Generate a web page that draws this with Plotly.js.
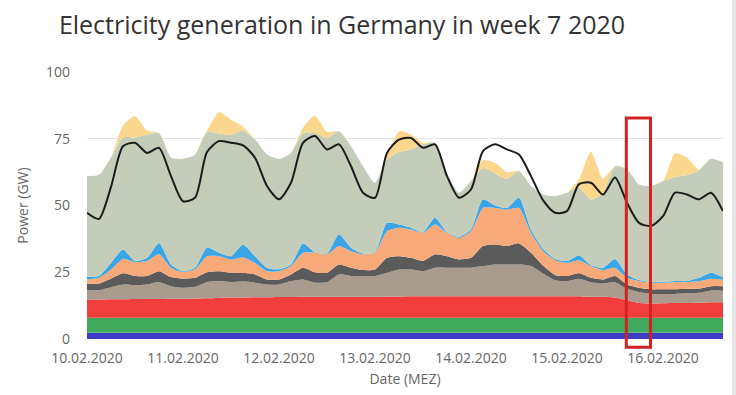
<!DOCTYPE html>
<html>
<head>
<meta charset="utf-8">
<script src="https://cdn.plot.ly/plotly-3.0.1.min.js"></script>
<style>html,body{margin:0;padding:0;background:#fff;}#chart{width:736px;height:395px;}</style>
</head>
<body>
<div id="chart"></div>
<script>
// time grid: every 3 hours from 10.02.2020 00:00
const startDay = 10, stepHours = 3, nPoints = 54;
const pad = n => (n < 10 ? '0' : '') + n;
const times = [];
for (let k = 0; k < nPoints; k++) {
  const h = k * stepHours;
  times.push('2020-02-' + pad(startDay + Math.floor(h / 24)) + ' ' + pad(h % 24) + ':00');
}

// series values in GW
const hydro = [2.3,2.3,2.3,2.3,2.3,2.3,2.3,2.3,2.3,2.3,2.3,2.3,2.3,2.3,2.3,2.3,2.3,2.3,2.3,2.3,2.3,2.3,2.3,2.3,2.3,2.3,2.3,2.3,2.3,2.3,2.3,2.3,2.3,2.3,2.3,2.3,2.3,2.3,2.3,2.3,2.3,2.3,2.3,2.3,2.3,2.3,2.3,2.3,2.3,2.3,2.3,2.3,2.3,2.3];
const biomass = [5.7,5.7,5.7,5.7,5.7,5.7,5.7,5.7,5.7,5.7,5.7,5.7,5.7,5.7,5.7,5.7,5.7,5.7,5.7,5.7,5.7,5.7,5.7,5.7,5.7,5.7,5.7,5.7,5.7,5.7,5.7,5.7,5.7,5.7,5.7,5.7,5.7,5.7,5.7,5.7,5.7,5.7,5.7,5.7,5.7,5.7,5.7,5.7,5.7,5.7,5.7,5.7,5.7,5.7];
const nuclear = [6.8,6.8,6.9,6.9,7.0,7.0,7.0,7.1,7.1,7.2,7.3,7.4,7.5,7.5,7.6,7.6,7.7,7.7,7.8,7.8,7.8,7.8,7.8,7.8,7.8,7.9,7.9,8.0,8.0,8.0,8.0,8.0,8.0,8.0,8.0,8.0,8.0,8.0,8.0,8.0,8.0,8.0,7.8,7.8,7.5,6.5,5.5,5.3,5.4,5.5,5.5,5.6,5.8,5.8];
const lignite = [3.5,3.5,4.5,5.5,5.2,5.4,6.3,4.7,4.1,4.4,6.0,6.3,5.8,6.0,5.5,4.8,4.7,6.0,6.5,5.3,5.5,8.4,7.8,7.8,7.8,8.9,10.1,10.0,9.4,10.7,10.7,10.7,10.7,11.3,11.9,11.9,11.9,11.3,8.5,6.0,5.7,6.6,5.5,5.0,5.8,4.3,4.1,3.6,3.5,3.4,3.6,3.7,4.4,4.3];
const hardCoal = [2.4,2.5,3.2,4.2,3.4,3.2,4.1,3.4,3.4,3.3,3.7,3.7,3.5,3.3,3.1,1.9,1.9,2.5,4.4,3.9,3.5,3.7,3.1,2.2,2.4,5.6,5.0,4.4,3.8,5.0,4.3,3.1,3.7,7.5,7.5,6.9,7.9,5.0,3.0,2.0,1.9,2.0,1.6,1.5,2.3,1.6,1.6,1.7,1.7,1.7,1.7,1.6,1.6,1.7];
const gas = [1.6,2.1,3.4,5.4,5.2,5.6,6.3,3.5,2.5,3.2,6.0,5.6,5.0,5.7,4.3,3.1,3.1,3.1,5.6,7.3,6.9,6.9,6.2,5.9,6.3,10.0,10.7,10.6,10.6,11.2,8.8,8.1,10.0,14.3,13.7,13.7,13.3,7.5,5.5,5.5,4.9,4.9,4.4,3.5,3.1,2.5,2.5,2.5,2.5,2.7,2.5,2.8,2.8,2.5];
const pumpedStorage = [1.0,0.7,2.5,3.5,0.4,1.2,4.3,1.2,0.3,0.6,3.2,1.3,1.2,4.9,2.5,1.3,0.7,0.6,3.5,0.2,0.2,4.4,1.3,0.3,0.2,3.1,1.2,0.7,0.2,2.5,0.2,0.4,0.6,3.2,0.9,0.6,3.8,1.2,0.8,0.5,0.7,1.8,0.4,0.9,3.3,1.3,0.4,0.3,0.3,0.4,0.4,1.2,2.2,0.8];
const wind = [37.7,37.9,39.5,42.0,46.3,46.1,41.2,40.1,42.1,42.3,43.3,44.7,45.5,42.6,43.7,42.4,41.4,41.8,41.4,44.7,43.4,38.6,38.0,32.7,26.0,23.5,27.1,29.3,32.9,28.1,22.2,16.5,18.1,11.7,12.0,10.9,10.0,16.3,20.3,23.5,25.6,25.3,24.6,27.8,34.7,39.3,35.8,35.9,37.7,38.9,39.7,40.3,42.7,43.1];
const solar = [0,0,0,4.5,8.0,1.5,0,0,0,0,0.5,8.0,5.7,1.5,0,0,0,0,1.9,6.5,2.2,0,0,0,0,1.5,7.8,5.6,0.6,0,0,0,0,3.0,4.0,2.5,0,0,0,0,0,3.2,17.9,5.5,0,0,0,0,0,8.9,6.5,0.3,0,0];
const load = [47.3,45.0,57.0,72.2,73.5,69.7,71.6,61.0,51.6,52.9,70.0,74.1,73.5,72.5,67.9,57.3,52.3,58.5,73.5,76.0,71.0,72.9,64.7,54.8,52.9,69.7,74.7,75.3,71.6,72.9,61.0,52.9,56.0,70.4,72.9,71.0,69.1,61.0,52.0,47.3,47.9,58.0,58.5,54.1,60.5,51.0,43.5,42.3,46.0,54.8,54.1,52.3,54.8,47.9];

const layers = [
  {name: 'Hydro', y: hydro, color: '#3c3cc6'},
  {name: 'Biomass', y: biomass, color: '#3fa95c'},
  {name: 'Nuclear', y: nuclear, color: '#f23d3d'},
  {name: 'Lignite', y: lignite, color: '#a99b8e'},
  {name: 'Hard coal', y: hardCoal, color: '#5b5b5b'},
  {name: 'Gas', y: gas, color: '#f7a97a'},
  {name: 'Pumped storage', y: pumpedStorage, color: '#3ba6e6'},
  {name: 'Wind', y: wind, color: '#c3cdb9'},
  {name: 'Solar', y: solar, color: '#fbd78d'}
];

const traces = layers.map(l => ({
  type: 'scatter', mode: 'lines', name: l.name, x: times, y: l.y,
  stackgroup: 'gen', fillcolor: l.color,
  line: {width: 0, color: l.color, shape: 'spline', smoothing: 0.6},
  hoverinfo: 'skip'
}));
traces.push({
  type: 'scatter', mode: 'lines', name: 'Load', x: times, y: load,
  line: {width: 2, color: '#1c1c1c', shape: 'spline', smoothing: 0.7},
  hoverinfo: 'skip'
});

const font = 'Open Sans, Noto Sans, sans-serif';
const layout = {
  width: 736, height: 395,
  margin: {l: 87, r: 13, t: 72, b: 56},
  paper_bgcolor: '#ffffff', plot_bgcolor: '#ffffff',
  showlegend: false,
  font: {family: font, color: '#666666', size: 14},
  title: {
    text: 'Electricity generation in Germany in week 7 2020',
    font: {family: font, size: 25, color: '#333333'},
    xref: 'container', yref: 'container', x: 0.08, xanchor: 'left', y: 0.935, yanchor: 'middle'
  },
  xaxis: {
    type: 'date', range: [times[0], times[times.length - 1]],
    tick0: '2020-02-10', dtick: 86400000, tickformat: '%d.%m.%Y',
    showgrid: false, zeroline: false, showline: false, ticks: '',
    ticklabelstandoff: 9,
    tickfont: {family: font, size: 14, color: '#666666'},
    title: {text: 'Date (MEZ)', font: {family: font, size: 14, color: '#666666'}, standoff: 8}
  },
  yaxis: {
    range: [0, 100], tickvals: [0, 25, 50, 75, 100],
    showgrid: true, gridcolor: '#e4e4e4', gridwidth: 1, zeroline: false, showline: false, ticks: '',
    ticklabelstandoff: 16,
    tickfont: {family: font, size: 14, color: '#666666'},
    title: {text: 'Power (GW)', font: {family: font, size: 14, color: '#666666'}, standoff: 14}
  },
  shapes: [
    {type: 'rect', xref: 'paper', yref: 'paper', x0: 0.848, x1: 0.886, y0: -0.031, y1: 0.828,
     line: {color: '#d42222', width: 3}, fillcolor: 'rgba(0,0,0,0)', layer: 'above'},
    {type: 'rect', xref: 'paper', yref: 'paper', x0: 1.014, x1: 1.03, y0: -0.22, y1: 1.28,
     line: {width: 0}, fillcolor: '#e6e6e6', layer: 'below'}
  ]
};

Plotly.newPlot('chart', traces, layout, {displayModeBar: false, staticPlot: true});
</script>
</body>
</html>
